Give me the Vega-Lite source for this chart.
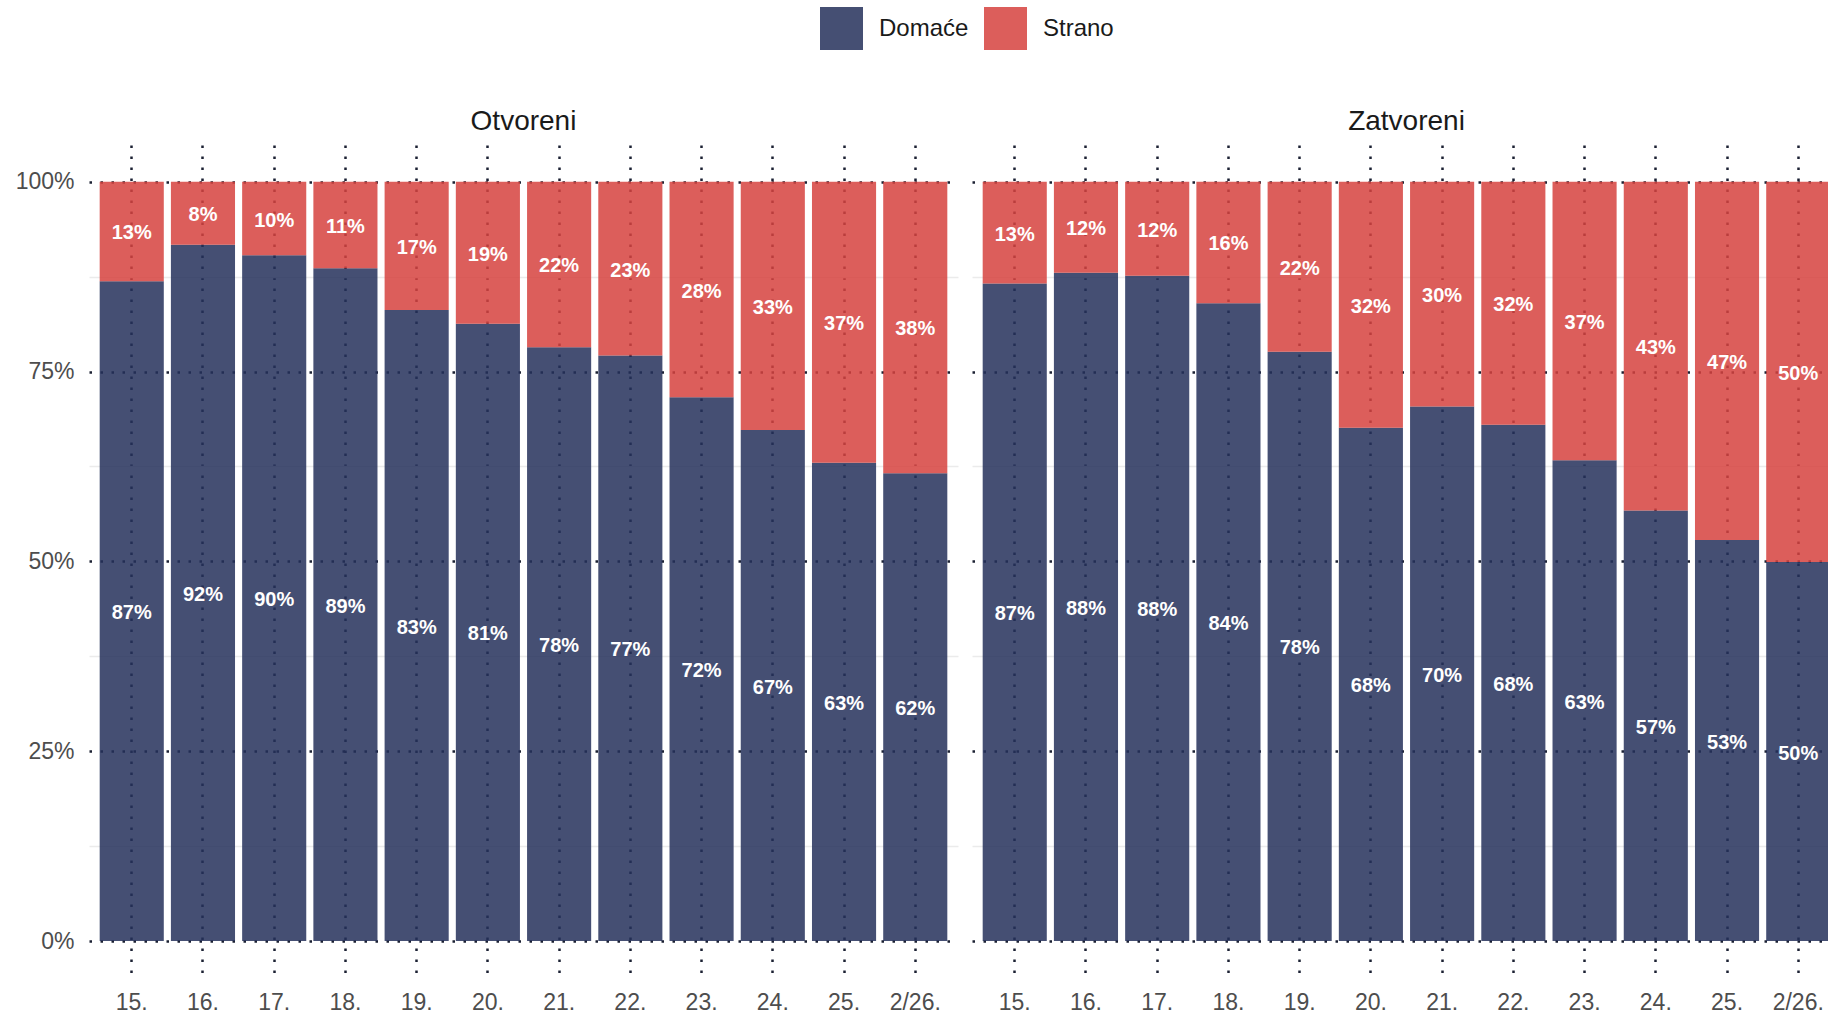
{
  "$schema": "https://vega.github.io/schema/vega-lite/v6.json",
  "padding": {"left": 15, "top": 7, "right": 0, "bottom": 0},
  "background": "white",
  "data": {"values": [
    {"panel": "Otvoreni", "period": "15.", "group": "Domaće", "share": 0.869},
    {"panel": "Otvoreni", "period": "15.", "group": "Strano", "share": 0.131},
    {"panel": "Otvoreni", "period": "16.", "group": "Domaće", "share": 0.917},
    {"panel": "Otvoreni", "period": "16.", "group": "Strano", "share": 0.083},
    {"panel": "Otvoreni", "period": "17.", "group": "Domaće", "share": 0.903},
    {"panel": "Otvoreni", "period": "17.", "group": "Strano", "share": 0.097},
    {"panel": "Otvoreni", "period": "18.", "group": "Domaće", "share": 0.886},
    {"panel": "Otvoreni", "period": "18.", "group": "Strano", "share": 0.114},
    {"panel": "Otvoreni", "period": "19.", "group": "Domaće", "share": 0.831},
    {"panel": "Otvoreni", "period": "19.", "group": "Strano", "share": 0.169},
    {"panel": "Otvoreni", "period": "20.", "group": "Domaće", "share": 0.813},
    {"panel": "Otvoreni", "period": "20.", "group": "Strano", "share": 0.187},
    {"panel": "Otvoreni", "period": "21.", "group": "Domaće", "share": 0.782},
    {"panel": "Otvoreni", "period": "21.", "group": "Strano", "share": 0.218},
    {"panel": "Otvoreni", "period": "22.", "group": "Domaće", "share": 0.771},
    {"panel": "Otvoreni", "period": "22.", "group": "Strano", "share": 0.229},
    {"panel": "Otvoreni", "period": "23.", "group": "Domaće", "share": 0.716},
    {"panel": "Otvoreni", "period": "23.", "group": "Strano", "share": 0.284},
    {"panel": "Otvoreni", "period": "24.", "group": "Domaće", "share": 0.673},
    {"panel": "Otvoreni", "period": "24.", "group": "Strano", "share": 0.327},
    {"panel": "Otvoreni", "period": "25.", "group": "Domaće", "share": 0.630},
    {"panel": "Otvoreni", "period": "25.", "group": "Strano", "share": 0.370},
    {"panel": "Otvoreni", "period": "2/26.", "group": "Domaće", "share": 0.616},
    {"panel": "Otvoreni", "period": "2/26.", "group": "Strano", "share": 0.384},
    {"panel": "Zatvoreni", "period": "15.", "group": "Domaće", "share": 0.866},
    {"panel": "Zatvoreni", "period": "15.", "group": "Strano", "share": 0.134},
    {"panel": "Zatvoreni", "period": "16.", "group": "Domaće", "share": 0.880},
    {"panel": "Zatvoreni", "period": "16.", "group": "Strano", "share": 0.120},
    {"panel": "Zatvoreni", "period": "17.", "group": "Domaće", "share": 0.876},
    {"panel": "Zatvoreni", "period": "17.", "group": "Strano", "share": 0.124},
    {"panel": "Zatvoreni", "period": "18.", "group": "Domaće", "share": 0.840},
    {"panel": "Zatvoreni", "period": "18.", "group": "Strano", "share": 0.160},
    {"panel": "Zatvoreni", "period": "19.", "group": "Domaće", "share": 0.776},
    {"panel": "Zatvoreni", "period": "19.", "group": "Strano", "share": 0.224},
    {"panel": "Zatvoreni", "period": "20.", "group": "Domaće", "share": 0.676},
    {"panel": "Zatvoreni", "period": "20.", "group": "Strano", "share": 0.324},
    {"panel": "Zatvoreni", "period": "21.", "group": "Domaće", "share": 0.704},
    {"panel": "Zatvoreni", "period": "21.", "group": "Strano", "share": 0.296},
    {"panel": "Zatvoreni", "period": "22.", "group": "Domaće", "share": 0.680},
    {"panel": "Zatvoreni", "period": "22.", "group": "Strano", "share": 0.320},
    {"panel": "Zatvoreni", "period": "23.", "group": "Domaće", "share": 0.633},
    {"panel": "Zatvoreni", "period": "23.", "group": "Strano", "share": 0.367},
    {"panel": "Zatvoreni", "period": "24.", "group": "Domaće", "share": 0.567},
    {"panel": "Zatvoreni", "period": "24.", "group": "Strano", "share": 0.433},
    {"panel": "Zatvoreni", "period": "25.", "group": "Domaće", "share": 0.528},
    {"panel": "Zatvoreni", "period": "25.", "group": "Strano", "share": 0.472},
    {"panel": "Zatvoreni", "period": "2/26.", "group": "Domaće", "share": 0.499},
    {"panel": "Zatvoreni", "period": "2/26.", "group": "Strano", "share": 0.501}
  ]},
  "transform": [
    {"stack": "share", "groupby": ["panel", "period"], "sort": [{"field": "group", "order": "ascending"}], "as": ["y0", "y1"]},
    {"calculate": "(datum.y0 + datum.y1) / 2", "as": "ymid"}
  ],
  "facet": {
    "column": {
      "field": "panel", "type": "nominal", "sort": ["Otvoreni", "Zatvoreni"],
      "header": {"title": null, "labelFontSize": 28, "labelFont": "Liberation Sans", "labelColor": "#1a1a1a", "labelPadding": 9}
    }
  },
  "spacing": 14,
  "spec": {
    "width": 869,
    "height": 833,
    "encoding": {
      "x": {
        "field": "period", "type": "ordinal",
        "sort": ["15.", "16.", "17.", "18.", "19.", "20.", "21.", "22.", "23.", "24.", "25.", "2/26."],
        "scale": {"paddingInner": 0.1, "paddingOuter": 0.15},
        "axis": {
          "title": null, "domain": false, "ticks": false, "labelAngle": 0,
          "labelFontSize": 23, "labelColor": "#4d4d4d", "labelFont": "Liberation Sans", "labelPadding": 13,
          "grid": true, "bandPosition": 0.5, "gridColor": "#1b2133", "gridWidth": 2.5, "gridDash": [2.5, 8.5]
        }
      }
    },
    "layer": [
      {
        "mark": {"type": "bar", "opacity": 0.85},
        "encoding": {
          "y": {
            "field": "y0", "type": "quantitative",
            "scale": {"domain": [-0.0487, 1.0483], "nice": false, "zero": false},
            "axis": {
              "title": null, "domain": false, "ticks": false,
              "values": [0, 0.125, 0.25, 0.375, 0.5, 0.625, 0.75, 0.875, 1],
              "format": ".0%",
              "labelExpr": "(datum.value * 1000) % 250 === 0 ? datum.label : ''",
              "labelFontSize": 23, "labelColor": "#4d4d4d", "labelFont": "Liberation Sans", "labelPadding": 15,
              "grid": true,
              "gridColor": {"condition": {"test": "(datum.value * 1000) % 250 === 0", "value": "#1b2133"}, "value": "#ebebeb"},
              "gridWidth": {"condition": {"test": "(datum.value * 1000) % 250 === 0", "value": 2.5}, "value": 1.3},
              "gridDash": {"condition": {"test": "(datum.value * 1000) % 250 === 0", "value": [2.5, 8.5]}, "value": []}
            }
          },
          "y2": {"field": "y1"},
          "color": {
            "field": "group", "type": "nominal",
            "scale": {"domain": ["Domaće", "Strano"], "range": ["#25305a", "#d6423e"]},
            "legend": {
              "orient": "none", "legendX": 731, "legendY": -138, "direction": "horizontal",
              "title": null, "symbolType": "square", "symbolSize": 1849, "symbolOpacity": 0.85,
              "symbolStrokeWidth": 0, "labelFontSize": 24, "labelColor": "#1a1a1a", "labelFont": "Liberation Sans",
              "labelOffset": 16, "columnPadding": 15
            }
          }
        }
      },
      {
        "mark": {"type": "text", "color": "white", "fontWeight": "bold", "fontSize": 20, "font": "Liberation Sans", "baseline": "middle", "dy": 2},
        "encoding": {
          "y": {"field": "ymid", "type": "quantitative"},
          "text": {"field": "share", "type": "quantitative", "format": ".0%"}
        }
      }
    ]
  },
  "config": {
    "view": {"stroke": null},
    "font": "Liberation Sans"
  }
}
